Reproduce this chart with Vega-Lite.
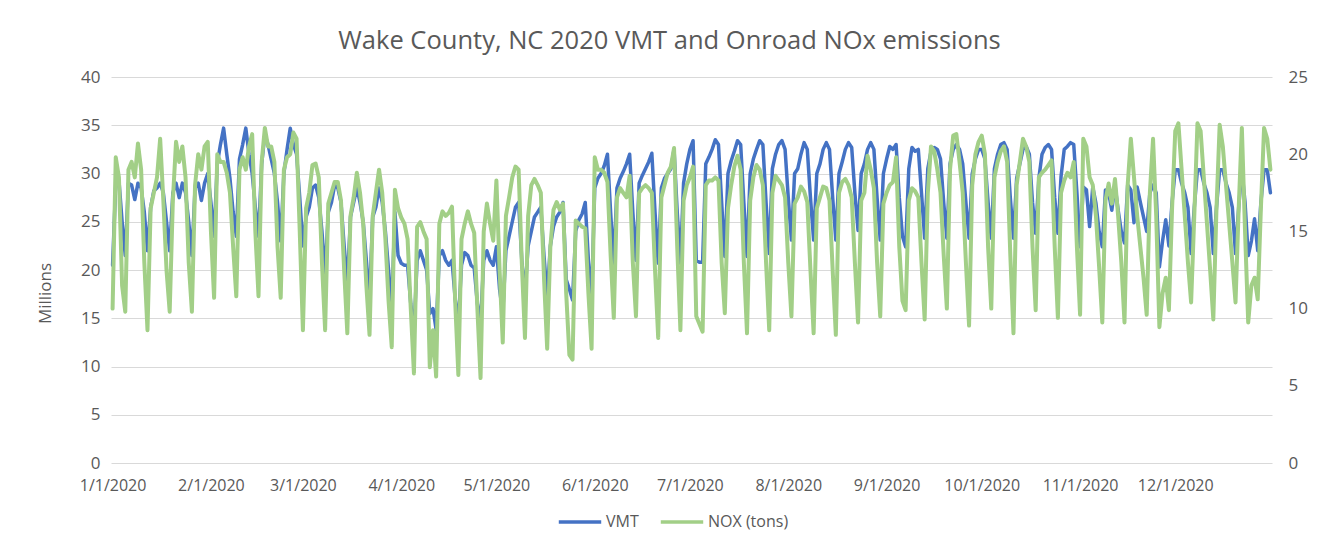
{
"$schema": "https://vega.github.io/schema/vega-lite/v6.json",
"width": 1161, "height": 386,
"autosize": {"type": "none"},
"padding": {"left": 111, "top": 77, "right": 56, "bottom": 78},
"background": "white",
"title": {"text": "Wake County, NC 2020 VMT and Onroad NOx emissions", "font": "Open Sans", "fontSize": 25.5, "fontWeight": "normal", "color": "#595959", "anchor": "middle", "dx": -22, "offset": 14},
"config": {"view": {"stroke": null}, "axis": {"labelFont": "Open Sans", "titleFont": "Open Sans", "labelColor": "#595959", "titleColor": "#595959"}},
"data": {"values": [
{"date":"2020-01-01","VMT":20.5,"NOX":10.0},{"date":"2020-01-02","VMT":29.0,"NOX":19.8},{"date":"2020-01-03","VMT":29.3,"NOX":18.5},{"date":"2020-01-04","VMT":25.0,"NOX":11.5},{"date":"2020-01-05","VMT":21.5,"NOX":9.8},
{"date":"2020-01-06","VMT":29.0,"NOX":19.0},{"date":"2020-01-07","VMT":28.8,"NOX":19.5},{"date":"2020-01-08","VMT":27.3,"NOX":18.5},{"date":"2020-01-09","VMT":29.0,"NOX":20.7},{"date":"2020-01-10","VMT":28.5,"NOX":19.0},{"date":"2020-01-11","VMT":26.0,"NOX":13.0},{"date":"2020-01-12","VMT":22.0,"NOX":8.6},
{"date":"2020-01-13","VMT":26.5,"NOX":16.5},{"date":"2020-01-14","VMT":28.2,"NOX":17.5},{"date":"2020-01-15","VMT":28.5,"NOX":18.5},{"date":"2020-01-16","VMT":29.0,"NOX":21.0},{"date":"2020-01-17","VMT":28.0,"NOX":17.0},{"date":"2020-01-18","VMT":25.0,"NOX":12.5},{"date":"2020-01-19","VMT":22.0,"NOX":9.8},
{"date":"2020-01-20","VMT":28.0,"NOX":17.0},{"date":"2020-01-21","VMT":29.0,"NOX":20.8},{"date":"2020-01-22","VMT":27.5,"NOX":19.5},{"date":"2020-01-23","VMT":29.0,"NOX":20.5},{"date":"2020-01-24","VMT":28.0,"NOX":18.5},{"date":"2020-01-25","VMT":25.0,"NOX":13.0},{"date":"2020-01-26","VMT":21.5,"NOX":9.8},
{"date":"2020-01-27","VMT":28.5,"NOX":18.0},{"date":"2020-01-28","VMT":29.0,"NOX":20.0},{"date":"2020-01-29","VMT":27.2,"NOX":19.0},{"date":"2020-01-30","VMT":29.0,"NOX":20.5},{"date":"2020-01-31","VMT":30.0,"NOX":20.8},{"date":"2020-02-01","VMT":27.0,"NOX":15.0},{"date":"2020-02-02","VMT":23.5,"NOX":10.7},
{"date":"2020-02-03","VMT":31.0,"NOX":20.0},{"date":"2020-02-04","VMT":33.0,"NOX":19.5},{"date":"2020-02-05","VMT":34.7,"NOX":19.5},{"date":"2020-02-06","VMT":32.0,"NOX":18.8},{"date":"2020-02-07","VMT":29.5,"NOX":17.5},{"date":"2020-02-08","VMT":26.0,"NOX":14.0},{"date":"2020-02-09","VMT":23.5,"NOX":10.8},
{"date":"2020-02-10","VMT":31.5,"NOX":19.0},{"date":"2020-02-11","VMT":33.0,"NOX":19.8},{"date":"2020-02-12","VMT":34.7,"NOX":19.0},{"date":"2020-02-13","VMT":32.0,"NOX":20.5},{"date":"2020-02-14","VMT":30.0,"NOX":21.3},{"date":"2020-02-15","VMT":26.5,"NOX":15.0},{"date":"2020-02-16","VMT":23.5,"NOX":10.8},
{"date":"2020-02-17","VMT":31.0,"NOX":19.5},{"date":"2020-02-18","VMT":34.0,"NOX":21.7},{"date":"2020-02-19","VMT":33.0,"NOX":20.5},{"date":"2020-02-20","VMT":31.5,"NOX":20.5},{"date":"2020-02-21","VMT":30.0,"NOX":19.5},{"date":"2020-02-22","VMT":27.0,"NOX":14.0},{"date":"2020-02-23","VMT":23.0,"NOX":10.7},
{"date":"2020-02-24","VMT":30.0,"NOX":19.0},{"date":"2020-02-25","VMT":32.5,"NOX":19.8},{"date":"2020-02-26","VMT":34.7,"NOX":20.0},{"date":"2020-02-27","VMT":33.0,"NOX":21.4},{"date":"2020-02-28","VMT":32.0,"NOX":21.0},{"date":"2020-02-29","VMT":27.5,"NOX":15.0},{"date":"2020-03-01","VMT":22.5,"NOX":8.6},
{"date":"2020-03-02","VMT":25.5,"NOX":16.5},{"date":"2020-03-03","VMT":26.5,"NOX":17.5},{"date":"2020-03-04","VMT":28.5,"NOX":19.3},{"date":"2020-03-05","VMT":28.8,"NOX":19.4},{"date":"2020-03-06","VMT":27.5,"NOX":18.5},{"date":"2020-03-07","VMT":24.0,"NOX":13.0},{"date":"2020-03-08","VMT":19.5,"NOX":8.6},
{"date":"2020-03-09","VMT":26.0,"NOX":16.8},{"date":"2020-03-10","VMT":27.0,"NOX":17.5},{"date":"2020-03-11","VMT":28.8,"NOX":18.2},{"date":"2020-03-12","VMT":28.5,"NOX":18.2},{"date":"2020-03-13","VMT":27.0,"NOX":17.0},{"date":"2020-03-14","VMT":22.5,"NOX":12.5},{"date":"2020-03-15","VMT":18.5,"NOX":8.4},
{"date":"2020-03-16","VMT":25.5,"NOX":16.0},{"date":"2020-03-17","VMT":27.0,"NOX":17.2},{"date":"2020-03-18","VMT":28.5,"NOX":18.8},{"date":"2020-03-19","VMT":27.0,"NOX":17.5},{"date":"2020-03-20","VMT":25.0,"NOX":15.5},{"date":"2020-03-21","VMT":21.0,"NOX":11.5},{"date":"2020-03-22","VMT":17.0,"NOX":8.3},
{"date":"2020-03-23","VMT":25.5,"NOX":16.0},{"date":"2020-03-24","VMT":26.5,"NOX":17.5},{"date":"2020-03-25","VMT":28.5,"NOX":19.0},{"date":"2020-03-26","VMT":27.0,"NOX":17.5},{"date":"2020-03-27","VMT":24.0,"NOX":14.5},{"date":"2020-03-28","VMT":20.0,"NOX":10.5},{"date":"2020-03-29","VMT":16.0,"NOX":7.5},
{"date":"2020-03-30","VMT":26.0,"NOX":17.7},{"date":"2020-03-31","VMT":21.5,"NOX":16.5},{"date":"2020-04-01","VMT":20.7,"NOX":15.9},{"date":"2020-04-02","VMT":20.5,"NOX":15.5},{"date":"2020-04-03","VMT":20.5,"NOX":14.5},{"date":"2020-04-04","VMT":16.5,"NOX":10.0},{"date":"2020-04-05","VMT":13.5,"NOX":5.8},
{"date":"2020-04-06","VMT":21.0,"NOX":15.3},{"date":"2020-04-07","VMT":22.0,"NOX":15.6},{"date":"2020-04-08","VMT":21.0,"NOX":15.0},{"date":"2020-04-09","VMT":20.0,"NOX":14.5},{"date":"2020-04-10","VMT":15.5,"NOX":6.2},{"date":"2020-04-11","VMT":16.0,"NOX":8.6},{"date":"2020-04-12","VMT":13.8,"NOX":5.6},
{"date":"2020-04-13","VMT":21.5,"NOX":15.5},{"date":"2020-04-14","VMT":22.0,"NOX":16.3},{"date":"2020-04-15","VMT":21.0,"NOX":16.0},{"date":"2020-04-16","VMT":20.5,"NOX":16.2},{"date":"2020-04-17","VMT":21.0,"NOX":16.6},{"date":"2020-04-18","VMT":17.0,"NOX":10.5},{"date":"2020-04-19","VMT":14.5,"NOX":5.7},
{"date":"2020-04-20","VMT":20.5,"NOX":14.5},{"date":"2020-04-21","VMT":21.8,"NOX":15.5},{"date":"2020-04-22","VMT":21.5,"NOX":16.3},{"date":"2020-04-23","VMT":20.5,"NOX":15.5},{"date":"2020-04-24","VMT":20.2,"NOX":14.9},{"date":"2020-04-25","VMT":16.5,"NOX":10.0},{"date":"2020-04-26","VMT":14.5,"NOX":5.5},
{"date":"2020-04-27","VMT":21.0,"NOX":15.0},{"date":"2020-04-28","VMT":22.0,"NOX":16.8},{"date":"2020-04-29","VMT":21.0,"NOX":15.5},{"date":"2020-04-30","VMT":20.5,"NOX":14.4},{"date":"2020-05-01","VMT":22.4,"NOX":18.3},{"date":"2020-05-02","VMT":18.0,"NOX":12.5},{"date":"2020-05-03","VMT":15.5,"NOX":7.8},
{"date":"2020-05-04","VMT":22.0,"NOX":16.0},{"date":"2020-05-05","VMT":23.5,"NOX":17.2},{"date":"2020-05-06","VMT":25.0,"NOX":18.5},{"date":"2020-05-07","VMT":26.5,"NOX":19.2},{"date":"2020-05-08","VMT":27.0,"NOX":19.0},{"date":"2020-05-09","VMT":21.0,"NOX":13.0},{"date":"2020-05-10","VMT":17.5,"NOX":8.1},
{"date":"2020-05-11","VMT":22.5,"NOX":16.0},{"date":"2020-05-12","VMT":24.0,"NOX":18.0},{"date":"2020-05-13","VMT":25.5,"NOX":18.4},{"date":"2020-05-14","VMT":26.0,"NOX":18.0},{"date":"2020-05-15","VMT":26.5,"NOX":17.5},{"date":"2020-05-16","VMT":21.5,"NOX":12.0},{"date":"2020-05-17","VMT":17.2,"NOX":7.4},
{"date":"2020-05-18","VMT":22.5,"NOX":14.0},{"date":"2020-05-19","VMT":24.5,"NOX":16.4},{"date":"2020-05-20","VMT":25.5,"NOX":16.9},{"date":"2020-05-21","VMT":26.0,"NOX":16.4},{"date":"2020-05-22","VMT":27.0,"NOX":16.8},{"date":"2020-05-23","VMT":19.0,"NOX":11.0},{"date":"2020-05-24","VMT":18.0,"NOX":7.0},
{"date":"2020-05-25","VMT":16.9,"NOX":6.7},{"date":"2020-05-26","VMT":24.0,"NOX":15.7},{"date":"2020-05-27","VMT":25.2,"NOX":15.5},{"date":"2020-05-28","VMT":25.8,"NOX":15.3},{"date":"2020-05-29","VMT":27.0,"NOX":15.2},{"date":"2020-05-30","VMT":21.0,"NOX":11.0},{"date":"2020-05-31","VMT":17.0,"NOX":7.4},
{"date":"2020-06-01","VMT":28.5,"NOX":19.8},{"date":"2020-06-02","VMT":29.5,"NOX":19.0},{"date":"2020-06-03","VMT":30.0,"NOX":19.0},{"date":"2020-06-04","VMT":30.8,"NOX":18.8},{"date":"2020-06-05","VMT":32.0,"NOX":18.2},{"date":"2020-06-06","VMT":26.0,"NOX":13.5},{"date":"2020-06-07","VMT":20.7,"NOX":9.4},
{"date":"2020-06-08","VMT":28.5,"NOX":17.2},{"date":"2020-06-09","VMT":29.5,"NOX":17.8},{"date":"2020-06-10","VMT":30.2,"NOX":17.5},{"date":"2020-06-11","VMT":31.0,"NOX":17.2},{"date":"2020-06-12","VMT":32.0,"NOX":18.6},{"date":"2020-06-13","VMT":26.0,"NOX":13.0},{"date":"2020-06-14","VMT":21.0,"NOX":9.5},
{"date":"2020-06-15","VMT":29.0,"NOX":17.5},{"date":"2020-06-16","VMT":29.8,"NOX":17.8},{"date":"2020-06-17","VMT":30.5,"NOX":18.0},{"date":"2020-06-18","VMT":31.2,"NOX":17.8},{"date":"2020-06-19","VMT":32.1,"NOX":17.5},{"date":"2020-06-20","VMT":26.0,"NOX":12.5},{"date":"2020-06-21","VMT":20.7,"NOX":8.1},
{"date":"2020-06-22","VMT":28.5,"NOX":17.2},{"date":"2020-06-23","VMT":29.5,"NOX":18.0},{"date":"2020-06-24","VMT":30.0,"NOX":18.8},{"date":"2020-06-25","VMT":30.5,"NOX":19.2},{"date":"2020-06-26","VMT":32.5,"NOX":20.4},{"date":"2020-06-27","VMT":26.0,"NOX":14.0},{"date":"2020-06-28","VMT":20.7,"NOX":8.6},
{"date":"2020-06-29","VMT":29.0,"NOX":17.0},{"date":"2020-06-30","VMT":31.0,"NOX":18.0},{"date":"2020-07-01","VMT":32.5,"NOX":18.5},{"date":"2020-07-02","VMT":33.4,"NOX":19.2},{"date":"2020-07-03","VMT":21.0,"NOX":9.5},{"date":"2020-07-04","VMT":20.8,"NOX":9.0},{"date":"2020-07-05","VMT":20.8,"NOX":8.5},
{"date":"2020-07-06","VMT":31.0,"NOX":18.0},{"date":"2020-07-07","VMT":31.7,"NOX":18.3},{"date":"2020-07-08","VMT":32.5,"NOX":18.3},{"date":"2020-07-09","VMT":33.5,"NOX":18.5},{"date":"2020-07-10","VMT":33.0,"NOX":18.3},{"date":"2020-07-11","VMT":27.0,"NOX":13.0},{"date":"2020-07-12","VMT":21.4,"NOX":9.7},
{"date":"2020-07-13","VMT":30.0,"NOX":16.5},{"date":"2020-07-14","VMT":31.3,"NOX":18.0},{"date":"2020-07-15","VMT":32.3,"NOX":19.2},{"date":"2020-07-16","VMT":33.4,"NOX":19.9},{"date":"2020-07-17","VMT":33.0,"NOX":19.0},{"date":"2020-07-18","VMT":27.0,"NOX":13.0},{"date":"2020-07-19","VMT":21.4,"NOX":8.4},
{"date":"2020-07-20","VMT":30.0,"NOX":17.0},{"date":"2020-07-21","VMT":31.5,"NOX":18.5},{"date":"2020-07-22","VMT":32.5,"NOX":19.3},{"date":"2020-07-23","VMT":33.4,"NOX":19.0},{"date":"2020-07-24","VMT":33.0,"NOX":18.0},{"date":"2020-07-25","VMT":27.0,"NOX":13.0},{"date":"2020-07-26","VMT":21.7,"NOX":8.6},
{"date":"2020-07-27","VMT":30.5,"NOX":17.5},{"date":"2020-07-28","VMT":32.0,"NOX":18.6},{"date":"2020-07-29","VMT":33.0,"NOX":18.3},{"date":"2020-07-30","VMT":33.4,"NOX":18.0},{"date":"2020-07-31","VMT":32.5,"NOX":17.2},{"date":"2020-08-01","VMT":27.5,"NOX":13.0},{"date":"2020-08-02","VMT":23.1,"NOX":9.5},
{"date":"2020-08-03","VMT":30.0,"NOX":16.8},{"date":"2020-08-04","VMT":30.5,"NOX":17.2},{"date":"2020-08-05","VMT":32.0,"NOX":17.9},{"date":"2020-08-06","VMT":33.2,"NOX":17.6},{"date":"2020-08-07","VMT":32.5,"NOX":16.9},{"date":"2020-08-08","VMT":27.5,"NOX":12.5},{"date":"2020-08-09","VMT":23.1,"NOX":8.4},
{"date":"2020-08-10","VMT":30.0,"NOX":16.5},{"date":"2020-08-11","VMT":31.0,"NOX":17.2},{"date":"2020-08-12","VMT":32.5,"NOX":17.9},{"date":"2020-08-13","VMT":33.2,"NOX":17.8},{"date":"2020-08-14","VMT":32.5,"NOX":17.0},{"date":"2020-08-15","VMT":27.5,"NOX":12.5},{"date":"2020-08-16","VMT":23.1,"NOX":8.3},
{"date":"2020-08-17","VMT":30.0,"NOX":17.5},{"date":"2020-08-18","VMT":31.2,"NOX":18.2},{"date":"2020-08-19","VMT":32.5,"NOX":18.4},{"date":"2020-08-20","VMT":33.2,"NOX":18.0},{"date":"2020-08-21","VMT":32.7,"NOX":17.2},{"date":"2020-08-22","VMT":28.0,"NOX":13.0},{"date":"2020-08-23","VMT":24.1,"NOX":9.1},
{"date":"2020-08-24","VMT":30.0,"NOX":17.0},{"date":"2020-08-25","VMT":31.0,"NOX":17.5},{"date":"2020-08-26","VMT":32.5,"NOX":19.9},{"date":"2020-08-27","VMT":33.2,"NOX":19.0},{"date":"2020-08-28","VMT":32.5,"NOX":17.8},{"date":"2020-08-29","VMT":27.5,"NOX":13.0},{"date":"2020-08-30","VMT":23.1,"NOX":9.5},
{"date":"2020-08-31","VMT":30.0,"NOX":16.8},{"date":"2020-09-01","VMT":31.5,"NOX":17.5},{"date":"2020-09-02","VMT":32.8,"NOX":18.0},{"date":"2020-09-03","VMT":32.5,"NOX":18.2},{"date":"2020-09-04","VMT":33.0,"NOX":19.8},{"date":"2020-09-05","VMT":27.5,"NOX":14.0},{"date":"2020-09-06","VMT":23.5,"NOX":10.5},
{"date":"2020-09-07","VMT":22.4,"NOX":9.9},{"date":"2020-09-08","VMT":30.5,"NOX":17.0},{"date":"2020-09-09","VMT":32.7,"NOX":17.8},{"date":"2020-09-10","VMT":32.3,"NOX":17.6},{"date":"2020-09-11","VMT":32.5,"NOX":17.2},{"date":"2020-09-12","VMT":28.0,"NOX":13.0},{"date":"2020-09-13","VMT":23.3,"NOX":9.3},
{"date":"2020-09-14","VMT":30.5,"NOX":17.5},{"date":"2020-09-15","VMT":32.3,"NOX":20.5},{"date":"2020-09-16","VMT":32.7,"NOX":20.2},{"date":"2020-09-17","VMT":32.5,"NOX":19.0},{"date":"2020-09-18","VMT":31.5,"NOX":17.5},{"date":"2020-09-19","VMT":27.0,"NOX":13.5},{"date":"2020-09-20","VMT":23.3,"NOX":10.0},
{"date":"2020-09-21","VMT":31.0,"NOX":19.0},{"date":"2020-09-22","VMT":32.5,"NOX":21.2},{"date":"2020-09-23","VMT":33.0,"NOX":21.3},{"date":"2020-09-24","VMT":32.5,"NOX":19.5},{"date":"2020-09-25","VMT":31.0,"NOX":17.5},{"date":"2020-09-26","VMT":27.0,"NOX":13.0},{"date":"2020-09-27","VMT":23.3,"NOX":8.9},
{"date":"2020-09-28","VMT":30.0,"NOX":18.0},{"date":"2020-09-29","VMT":31.5,"NOX":20.0},{"date":"2020-09-30","VMT":32.5,"NOX":20.8},{"date":"2020-10-01","VMT":32.5,"NOX":21.2},{"date":"2020-10-02","VMT":31.5,"NOX":20.0},{"date":"2020-10-03","VMT":27.0,"NOX":14.0},{"date":"2020-10-04","VMT":23.3,"NOX":10.0},
{"date":"2020-10-05","VMT":30.5,"NOX":18.5},{"date":"2020-10-06","VMT":32.0,"NOX":19.5},{"date":"2020-10-07","VMT":33.0,"NOX":20.2},{"date":"2020-10-08","VMT":33.2,"NOX":20.5},{"date":"2020-10-09","VMT":32.5,"NOX":19.5},{"date":"2020-10-10","VMT":27.5,"NOX":13.5},{"date":"2020-10-11","VMT":23.3,"NOX":8.4},
{"date":"2020-10-12","VMT":29.5,"NOX":18.0},{"date":"2020-10-13","VMT":31.0,"NOX":19.5},{"date":"2020-10-14","VMT":32.5,"NOX":21.0},{"date":"2020-10-15","VMT":32.8,"NOX":20.5},{"date":"2020-10-16","VMT":32.0,"NOX":19.5},{"date":"2020-10-17","VMT":27.0,"NOX":14.0},{"date":"2020-10-18","VMT":23.8,"NOX":9.9},
{"date":"2020-10-19","VMT":29.5,"NOX":18.5},{"date":"2020-10-20","VMT":32.0,"NOX":18.8},{"date":"2020-10-21","VMT":32.7,"NOX":19.0},{"date":"2020-10-22","VMT":33.0,"NOX":19.3},{"date":"2020-10-23","VMT":32.5,"NOX":19.6},{"date":"2020-10-24","VMT":27.5,"NOX":14.0},{"date":"2020-10-25","VMT":23.8,"NOX":9.4},
{"date":"2020-10-26","VMT":29.7,"NOX":17.5},{"date":"2020-10-27","VMT":32.5,"NOX":18.3},{"date":"2020-10-28","VMT":32.8,"NOX":18.8},{"date":"2020-10-29","VMT":33.2,"NOX":18.5},{"date":"2020-10-30","VMT":33.0,"NOX":19.5},{"date":"2020-10-31","VMT":28.0,"NOX":14.0},{"date":"2020-11-01","VMT":22.4,"NOX":9.6},
{"date":"2020-11-02","VMT":28.6,"NOX":21.0},{"date":"2020-11-03","VMT":28.3,"NOX":20.5},{"date":"2020-11-04","VMT":24.5,"NOX":18.5},{"date":"2020-11-05","VMT":28.6,"NOX":18.0},{"date":"2020-11-06","VMT":26.9,"NOX":16.0},{"date":"2020-11-07","VMT":24.0,"NOX":12.7},{"date":"2020-11-08","VMT":22.4,"NOX":9.1},
{"date":"2020-11-09","VMT":28.3,"NOX":17.0},{"date":"2020-11-10","VMT":28.0,"NOX":18.1},{"date":"2020-11-11","VMT":26.2,"NOX":16.8},{"date":"2020-11-12","VMT":28.8,"NOX":18.4},{"date":"2020-11-13","VMT":26.2,"NOX":16.0},{"date":"2020-11-14","VMT":24.0,"NOX":13.0},{"date":"2020-11-15","VMT":22.8,"NOX":9.1},
{"date":"2020-11-16","VMT":28.8,"NOX":18.0},{"date":"2020-11-17","VMT":28.3,"NOX":21.0},{"date":"2020-11-18","VMT":24.9,"NOX":18.5},{"date":"2020-11-19","VMT":28.6,"NOX":16.0},{"date":"2020-11-20","VMT":27.0,"NOX":14.0},{"date":"2020-11-21","VMT":25.5,"NOX":12.0},{"date":"2020-11-22","VMT":24.0,"NOX":9.6},
{"date":"2020-11-23","VMT":28.0,"NOX":17.5},{"date":"2020-11-24","VMT":28.8,"NOX":21.0},{"date":"2020-11-25","VMT":28.0,"NOX":16.0},{"date":"2020-11-26","VMT":20.3,"NOX":8.8},{"date":"2020-11-27","VMT":23.0,"NOX":11.0},{"date":"2020-11-28","VMT":25.2,"NOX":12.0},{"date":"2020-11-29","VMT":22.5,"NOX":9.9},
{"date":"2020-11-30","VMT":27.0,"NOX":16.5},{"date":"2020-12-01","VMT":30.4,"NOX":21.5},{"date":"2020-12-02","VMT":30.4,"NOX":22.0},{"date":"2020-12-03","VMT":29.0,"NOX":19.0},{"date":"2020-12-04","VMT":28.0,"NOX":16.0},{"date":"2020-12-05","VMT":26.5,"NOX":13.0},{"date":"2020-12-06","VMT":21.7,"NOX":10.4},
{"date":"2020-12-07","VMT":26.5,"NOX":16.0},{"date":"2020-12-08","VMT":30.4,"NOX":22.0},{"date":"2020-12-09","VMT":30.4,"NOX":21.5},{"date":"2020-12-10","VMT":29.0,"NOX":18.5},{"date":"2020-12-11","VMT":28.0,"NOX":15.5},{"date":"2020-12-12","VMT":26.5,"NOX":12.5},{"date":"2020-12-13","VMT":21.7,"NOX":9.3},
{"date":"2020-12-14","VMT":26.5,"NOX":16.5},{"date":"2020-12-15","VMT":30.4,"NOX":21.9},{"date":"2020-12-16","VMT":30.4,"NOX":20.5},{"date":"2020-12-17","VMT":29.0,"NOX":18.0},{"date":"2020-12-18","VMT":28.0,"NOX":15.5},{"date":"2020-12-19","VMT":26.5,"NOX":13.0},{"date":"2020-12-20","VMT":21.7,"NOX":10.4},
{"date":"2020-12-21","VMT":26.5,"NOX":16.5},{"date":"2020-12-22","VMT":30.4,"NOX":21.7},{"date":"2020-12-23","VMT":27.0,"NOX":15.0},{"date":"2020-12-24","VMT":21.5,"NOX":9.1},{"date":"2020-12-25","VMT":23.0,"NOX":11.5},{"date":"2020-12-26","VMT":25.3,"NOX":12.0},{"date":"2020-12-27","VMT":22.0,"NOX":10.6},
{"date":"2020-12-28","VMT":27.0,"NOX":16.5},{"date":"2020-12-29","VMT":30.4,"NOX":21.7},{"date":"2020-12-30","VMT":30.4,"NOX":21.0},{"date":"2020-12-31","VMT":28.0,"NOX":19.0}
]},
"encoding": {
  "x": {"field": "date", "type": "temporal",
    "scale": {"type": "utc", "domain": [{"year": 2019, "month": 12, "date": 31, "hours": 12, "utc": true}, {"year": 2020, "month": 12, "date": 31, "hours": 12, "utc": true}]},
    "axis": {"title": null, "tickCount": {"interval": "month", "step": 1}, "format": "%-m/%-d/%Y", "labelFontSize": 16, "labelPadding": 14, "ticks": false, "domain": false, "grid": false, "labelOverlap": false, "labelFlush": false}}
},
"layer": [
  {"mark": {"type": "line", "strokeWidth": 3.5, "strokeJoin": "round", "strokeCap": "round"},
   "encoding": {
     "y": {"field": "VMT", "type": "quantitative", "scale": {"domain": [0, 40]},
       "axis": {"values": [0, 5, 10, 15, 20, 25, 30, 35, 40], "title": "Millions", "titleFontSize": 17, "titleFontWeight": "normal", "titleAngle": -90, "titleX": -66, "titleY": 216, "titleAlign": "center", "titleBaseline": "middle", "labelFontSize": 17, "labelPadding": 11, "ticks": false, "domain": false, "grid": true, "gridColor": "#D9D9D9", "gridWidth": 1}},
     "color": {"datum": "VMT", "type": "nominal",
       "scale": {"domain": ["VMT", "NOX (tons)"], "range": ["#4472C4", "#A2CF87"]},
       "legend": {"orient": "none", "legendX": 446, "legendY": 422, "direction": "horizontal", "title": null, "symbolType": "stroke", "symbolStrokeWidth": 3.5, "symbolSize": 1800, "labelFont": "Open Sans", "labelFontSize": 16, "labelColor": "#595959", "columnPadding": 14, "labelOffset": 3}}
   }},
  {"mark": {"type": "line", "strokeWidth": 4, "strokeJoin": "round", "strokeCap": "round"},
   "encoding": {
     "y": {"field": "NOX", "type": "quantitative", "scale": {"domain": [0, 25]},
       "axis": {"orient": "right", "values": [0, 5, 10, 15, 20, 25], "title": null, "labelFontSize": 17, "labelPadding": 16, "ticks": false, "domain": false, "grid": false}},
     "color": {"datum": "NOX (tons)", "type": "nominal"}
   }}
],
"resolve": {"scale": {"y": "independent"}}
}
